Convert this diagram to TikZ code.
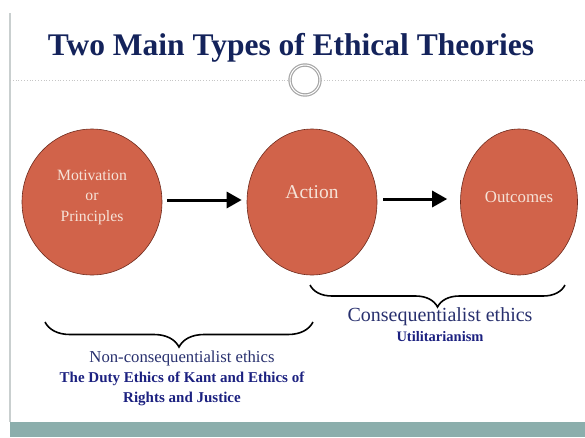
\documentclass[tikz,border=0pt]{standalone}
\usepackage{fontspec}
\setmainfont{Liberation Serif}
\usetikzlibrary{shapes.geometric,arrows.meta,decorations.pathreplacing}

\definecolor{titleblue}{HTML}{14235B}
\definecolor{inkblue}{HTML}{28306E}
\definecolor{boldblue}{HTML}{1C2180}
\definecolor{bubblefill}{HTML}{D1634A}
\definecolor{bubbleline}{HTML}{6E2A1C}
\definecolor{bubbletext}{HTML}{F6E3D8}
\definecolor{footband}{HTML}{8BAEAC}
\definecolor{rulegray}{HTML}{C9CFCF}

\tikzset{
  bubble/.style={ellipse, draw=bubbleline, fill=bubblefill, line width=0.6pt, inner sep=0pt},
  bubbletxt/.style={text=bubbletext, align=center},
  flow/.style={line width=3pt, -{Triangle[length=15pt,width=16pt]}},
  curly/.style={line width=1.6pt, decorate, decoration={brace, amplitude=#1}},
  curly/.default=22pt,
}

\begin{document}
\begin{tikzpicture}[x=1pt,y=-1pt]
  \useasboundingbox (0,0) rectangle (585,437);

  % slide frame: side rule, footer band, divider with knob
  \fill[footband] (10,422) rectangle (585,437);
  \draw[rulegray, line width=2pt] (10,13) -- (10,422);
  \draw[gray!45, dotted, line width=0.8pt] (10,80) -- (289,80);
  \draw[gray!45, dotted, line width=0.8pt] (321,80) -- (585,80);
  \node[circle, draw=gray!70, double=white, double distance=1pt, line width=1.2pt,
        minimum size=30pt, fill=white] (knob) at (305,80) {};

  \node[text=titleblue, font=\bfseries\fontsize{31.5}{36}\selectfont] (title) at (291,48)
    {Two Main Types of Ethical Theories};

  % the three stages
  \node[bubble, minimum width=140pt, minimum height=146pt] (motive) at (92,202) {};
  \node[bubble, minimum width=130pt, minimum height=146pt] (action) at (312,202) {};
  \node[bubble, minimum width=117pt, minimum height=146pt] (outcome) at (519,202) {};

  \node[bubbletxt, font=\fontsize{15.7}{20.5}\selectfont] (motivetxt) at (92,197)
    {Motivation\\or\\Principles};
  \node[bubbletxt, font=\fontsize{19.5}{22}\selectfont] (actiontxt) at (312,192) {Action};
  \node[bubbletxt, font=\fontsize{16.8}{20}\selectfont] (outcometxt) at (519,197) {Outcomes};

  \draw[flow, shorten <=5pt, shorten >=5pt] ([yshift=2pt]motive.east) -- ([yshift=2pt]action.west);
  \draw[flow, shorten <=6pt, shorten >=13pt] ([yshift=3pt]action.east) -- ([yshift=3pt]outcome.west);

  % braces grouping the stages
  \coordinate (rightR) at (565,285);
  \coordinate (rightL) at (310,285);
  \coordinate (leftR) at (313,322);
  \coordinate (leftL) at (45,322);
  \draw[curly=22pt] (rightR) -- (rightL);
  \draw[curly=25pt] (leftR) -- (leftL);

  \node[text=inkblue, font=\fontsize{20}{24}\selectfont] (conseq) at (440,317)
    {Consequentialist ethics};
  \node[text=boldblue, font=\bfseries\fontsize{14.5}{17}\selectfont] (util) at (440,337)
    {Utilitarianism};
  \node[text=inkblue, font=\fontsize{16.7}{20}\selectfont] (nonconseq) at (182,358)
    {Non-consequentialist ethics};
  \node[text=boldblue, font=\bfseries\fontsize{15}{19.5}\selectfont, align=center] (duty) at (182,389)
    {The Duty Ethics of Kant and Ethics of\\Rights and Justice};
\end{tikzpicture}
\end{document}
